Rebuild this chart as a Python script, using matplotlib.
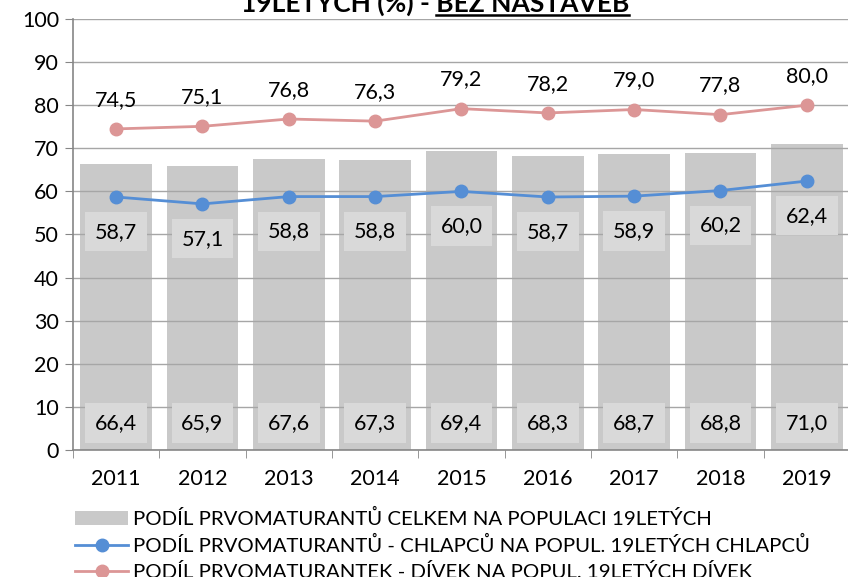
import numpy as np
import matplotlib
matplotlib.use("Agg")
import matplotlib.pyplot as plt
from matplotlib.patches import Patch
from matplotlib.lines import Line2D

plt.rcParams['font.family'] = ['Lato', 'DejaVu Sans']

# data
roky = ['2011', '2012', '2013', '2014', '2015', '2016', '2017', '2018', '2019']
celkem = [66.4, 65.9, 67.6, 67.3, 69.4, 68.3, 68.7, 68.8, 71.0]
chlapci = [58.7, 57.1, 58.8, 58.8, 60.0, 58.7, 58.9, 60.2, 62.4]
divky = [74.5, 75.1, 76.8, 76.3, 79.2, 78.2, 79.0, 77.8, 80.0]

leg_celkem = 'PODÍL PRVOMATURANTŮ CELKEM NA POPULACI 19LETÝCH'
leg_chlapci = 'PODÍL PRVOMATURANTŮ - CHLAPCŮ NA POPUL. 19LETÝCH CHLAPCŮ'
leg_divky = 'PODÍL PRVOMATURANTEK - DÍVEK NA POPUL. 19LETÝCH DÍVEK'

c_bar = '#c9c9c9'
c_box = '#d9d9d9'
c_blue = '#558ed5'
c_pink = '#dc9696'

def fmt(v):
    return '{:.1f}'.format(v).replace('.', ',')

fig = plt.figure(figsize=(8.48, 5.77), dpi=100)
ax = fig.add_axes([73/848, 127/577, 777/848, 431/577])

x = np.arange(len(roky))
ax.bar(x, celkem, width=0.83, color=c_bar, zorder=1)
ax.plot(x, chlapci, color=c_blue, lw=2, marker='o', ms=9, zorder=4)
ax.plot(x, divky, color=c_pink, lw=2, marker='o', ms=9, zorder=4)

fs = 15.5
for i in x:
    ax.text(i, 6.3, fmt(celkem[i]), ha='center', va='center', fontsize=fs,
            bbox=dict(boxstyle='square,pad=0.45', fc=c_box, ec='none'), zorder=3)
    ax.annotate(fmt(chlapci[i]), (i, chlapci[i]), xytext=(0, -25),
                textcoords='offset points', ha='center', va='center', fontsize=fs,
                bbox=dict(boxstyle='square,pad=0.45', fc=c_box, ec='none'), zorder=3)
    ax.annotate(fmt(divky[i]), (i, divky[i]), xytext=(0, 21),
                textcoords='offset points', ha='center', va='center', fontsize=fs,
                zorder=3)

ax.set_xlim(-0.5, len(roky) - 0.5)
ax.set_ylim(0, 100)
ax.set_yticks(np.arange(0, 101, 10))
ax.yaxis.grid(True, color='#a6a6a6', lw=1)
ax.set_xticks(x)
ax.set_xticklabels(roky)
ax.set_xticks(np.arange(-0.5, len(roky), 1), minor=True)
ax.tick_params(axis='x', which='major', length=0, pad=14, labelsize=fs)
ax.tick_params(axis='x', which='minor', length=6, color='#868686')
ax.tick_params(axis='y', length=6, color='#868686', pad=4, labelsize=fs)
for s in ['top', 'right']:
    ax.spines[s].set_visible(False)
for s in ['left', 'bottom']:
    ax.spines[s].set_color('#868686')
    ax.spines[s].set_linewidth(1.2)

handles = [Patch(fc=c_bar, ec='none'),
           Line2D([], [], color=c_blue, lw=2, marker='o', ms=9),
           Line2D([], [], color=c_pink, lw=2, marker='o', ms=9)]
fig.legend(handles, [leg_celkem, leg_chlapci, leg_divky], loc='upper left',
           bbox_to_anchor=(75/848, 1 - 509/577), frameon=False, fontsize=14.7,
           handlelength=2.6, handletextpad=0.25, labelspacing=0.38,
           borderpad=0, borderaxespad=0)

# title (top part cut off in the reference)
t1 = '19LETÝCH (%) - '
t2 = 'BEZ NÁSTAVEB'
ty = 1 - 12/577
tfs = 19
full = fig.text(0.513, ty, t1 + t2, ha='center', va='baseline',
                fontsize=tfs, fontweight='bold')
fig.canvas.draw()
r = fig.canvas.get_renderer()
bb = full.get_window_extent(r)
pre = fig.text(0, 0, t1, fontsize=tfs, fontweight='bold')
w1 = pre.get_window_extent(r).width
pre.remove()
x0 = (bb.x0 + w1) / fig.bbox.width
x1 = bb.x1 / fig.bbox.width
fig.add_artist(Line2D([x0, x1], [ty - 3/577, ty - 3/577], color='black', lw=1.8,
                      transform=fig.transFigure))

fig.savefig('out.png', dpi=100)
